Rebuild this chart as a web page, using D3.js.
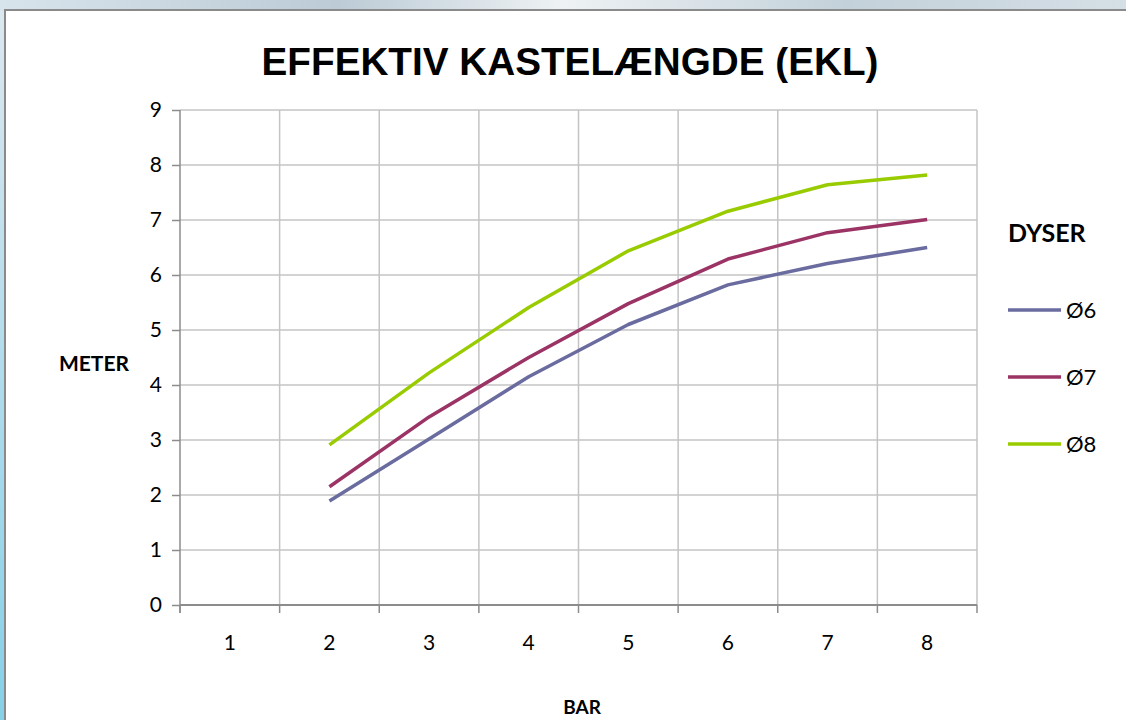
<!DOCTYPE html>
<html>
<head>
<meta charset="utf-8">
<script src="https://cdn.jsdelivr.net/npm/d3@7"></script>
<style>
  body { margin: 0; background: #fff; }
  text { font-family: Lato, "Open Sans", sans-serif; fill: #000; }
</style>
</head>
<body>
<div class="chart"></div>
<script>
const categories = ["1", "2", "3", "4", "5", "6", "7", "8"]
const seriesNames = ["Ø6", "Ø7", "Ø8"]
const valuesD6 = [null, 1.89, 3.02, 4.15, 5.10, 5.82, 6.21, 6.50]
const valuesD7 = [null, 2.15, 3.42, 4.50, 5.48, 6.29, 6.77, 7.01]
const valuesD8 = [null, 2.91, 4.22, 5.41, 6.44, 7.16, 7.64, 7.82]
const yTicks = [0, 1, 2, 3, 4, 5, 6, 7, 8, 9]

const drawChart = () => {
  const colors = {
    d6: "#6A6B9F",
    d7: "#9B3465",
    d8: "#99CC00",
    grid: "#C4C4C4",
    axis: "#8C8C8C"
  }

  const dims = {
    width: 1126,
    height: 720,
    plotLeft: 180,
    plotRight: 977,
    plotTop: 110,
    plotBottom: 605
  }

  const series = [
    { name: seriesNames[0], values: valuesD6, color: colors.d6 },
    { name: seriesNames[1], values: valuesD7, color: colors.d7 },
    { name: seriesNames[2], values: valuesD8, color: colors.d8 }
  ]

  const xScale = d3.scaleBand()
    .domain(categories)
    .range([dims.plotLeft, dims.plotRight])
    .padding(0)

  const yScale = d3.scaleLinear()
    .domain([0, 9])
    .range([dims.plotBottom, dims.plotTop])

  const xCenter = c => xScale(c) + xScale.bandwidth() / 2

  const svg = d3.select(".chart")
    .append("svg")
      .attr("width", dims.width)
      .attr("height", dims.height)

  // backdrop behind the chart frame
  const defs = svg.append("defs")
  const leftGrad = defs.append("linearGradient")
      .attr("id", "leftGrad")
      .attr("x1", 0).attr("y1", 0).attr("x2", 0).attr("y2", 1)
  leftGrad.append("stop").attr("offset", "0%").attr("stop-color", "#dde8f0")
  leftGrad.append("stop").attr("offset", "100%").attr("stop-color", "#86d0e8")
  const topGrad = defs.append("linearGradient")
      .attr("id", "topGrad")
      .attr("x1", 0).attr("y1", 0).attr("x2", 1).attr("y2", 0)
  topGrad.append("stop").attr("offset", "0%").attr("stop-color", "#d8e4ec")
  topGrad.append("stop").attr("offset", "30%").attr("stop-color", "#bccbd6")
  topGrad.append("stop").attr("offset", "50%").attr("stop-color", "#eef2f4")
  topGrad.append("stop").attr("offset", "75%").attr("stop-color", "#c3d1da")
  topGrad.append("stop").attr("offset", "100%").attr("stop-color", "#d5dfe6")

  svg.append("rect")
      .attr("width", 6).attr("height", dims.height)
      .attr("fill", "url(#leftGrad)")
  svg.append("rect")
      .attr("width", dims.width).attr("height", 11)
      .attr("fill", "url(#topGrad)")

  svg.append("rect")
      .attr("x", 5).attr("y", 10)
      .attr("width", dims.width + 10).attr("height", dims.height)
      .attr("fill", "white")
      .attr("stroke", "#8a8a8a")
      .attr("stroke-width", 2)

  // gridlines
  const grid = svg.append("g").attr("class", "grid")
  grid.selectAll(".h-grid")
    .data(yTicks.filter(d => d > 0))
    .join("line")
      .attr("x1", dims.plotLeft).attr("x2", dims.plotRight)
      .attr("y1", d => yScale(d)).attr("y2", d => yScale(d))
      .attr("stroke", colors.grid)
      .attr("stroke-width", 1.5)

  const boundaries = categories.map(c => xScale(c)).concat([dims.plotRight])
  grid.selectAll(".v-grid")
    .data(boundaries.slice(1))
    .join("line")
      .attr("x1", d => d).attr("x2", d => d)
      .attr("y1", dims.plotTop).attr("y2", dims.plotBottom)
      .attr("stroke", colors.grid)
      .attr("stroke-width", 1.5)

  // y axis
  svg.append("g")
      .attr("transform", `translate(${dims.plotLeft},0)`)
      .call(d3.axisLeft(yScale).tickValues(yTicks).tickSize(8).tickPadding(10))
      .call(g => g.selectAll("line, path").attr("stroke", colors.axis).attr("stroke-width", 1.5))
      .call(g => g.select(".domain").attr("d", `M0,${dims.plotTop}V${dims.plotBottom + 8}`))
      .call(g => g.selectAll("text").attr("font-size", 21).attr("font-family", "Lato"))

  // x axis
  svg.append("g")
      .attr("transform", `translate(0,${dims.plotBottom})`)
      .call(d3.axisBottom(xScale).tickSize(0).tickPadding(30))
      .call(g => g.select(".domain").attr("stroke", colors.axis).attr("stroke-width", 2)
          .attr("d", `M${dims.plotLeft},0H${dims.plotRight}`))
      .call(g => g.selectAll("text").attr("font-size", 21).attr("font-family", "Lato"))
      .call(g => g.selectAll(".x-tick")
        .data(boundaries)
        .join("line")
          .attr("class", "x-tick")
          .attr("x1", d => d).attr("x2", d => d)
          .attr("y1", 0).attr("y2", 8)
          .attr("stroke", colors.axis)
          .attr("stroke-width", 1.5))

  // lines
  const lineGenerator = d3.line()
    .defined(d => d.v !== null)
    .x(d => xCenter(d.c))
    .y(d => yScale(d.v))

  svg.selectAll(".series-line")
    .data(series)
    .join("path")
      .attr("class", "series-line")
      .attr("d", s => lineGenerator(s.values.map((v, i) => ({ c: categories[i], v }))))
      .attr("fill", "none")
      .attr("stroke", s => s.color)
      .attr("stroke-width", 3.5)
      .attr("stroke-linejoin", "round")

  // title and axis titles
  svg.append("text")
      .attr("x", 570)
      .attr("y", 75)
      .attr("text-anchor", "middle")
      .style("font-family", "'Liberation Sans', Arial, sans-serif")
      .style("font-weight", "bold")
      .style("font-size", "38.7px")
      .text("EFFEKTIV KASTELÆNGDE (EKL)")

  svg.append("text")
      .attr("x", 94)
      .attr("y", 371)
      .attr("text-anchor", "middle")
      .style("font-weight", "bold")
      .style("font-size", "21px")
      .text("METER")

  svg.append("text")
      .attr("x", 582)
      .attr("y", 714)
      .attr("text-anchor", "middle")
      .style("font-weight", "bold")
      .style("font-size", "19px")
      .text("BAR")

  // legend
  const legend = svg.append("g").attr("class", "legend")
  legend.append("text")
      .attr("x", 1008)
      .attr("y", 242)
      .style("font-weight", "bold")
      .style("font-size", "25px")
      .text("DYSER")

  const legendItems = legend.selectAll(".legend-item")
    .data(series)
    .join("g")
      .attr("class", "legend-item")
      .attr("transform", (d, i) => `translate(1008,${310 + i * 67})`)
  legendItems.append("line")
      .attr("x1", 0).attr("x2", 53)
      .attr("stroke", d => d.color)
      .attr("stroke-width", 3.5)
  legendItems.append("text")
      .attr("x", 58)
      .attr("y", 8)
      .style("font-size", "22px")
      .text(d => d.name)
}
drawChart()
</script>
</body>
</html>
